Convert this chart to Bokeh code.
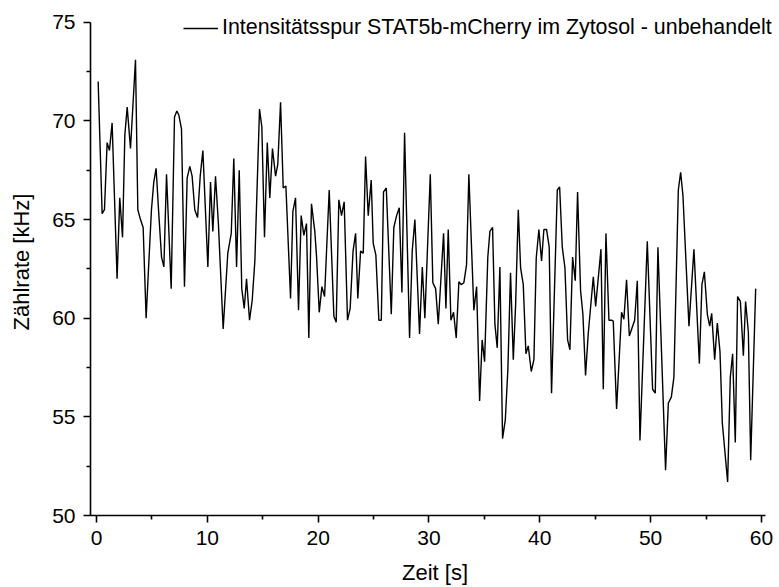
from bokeh.plotting import figure
from bokeh.models import Range1d, FixedTicker, Legend, LegendItem
from bokeh.embed import file_html
from bokeh.resources import INLINE

# time [s] and count rate [kHz]
zeit = [0.15, 0.51, 0.72, 0.96, 1.17, 1.41, 1.86, 2.1, 2.35, 2.56, 2.77, 3.07, 3.52, 3.73, 3.97, 4.21, 4.48,
        4.72, 4.96, 5.17, 5.38, 5.62, 5.87, 6.08, 6.32, 6.74, 7.04, 7.25, 7.43, 7.67, 7.94, 8.18, 8.42, 8.63,
        8.87, 9.12, 9.36, 9.6, 10.05, 10.29, 10.5, 10.74, 11.0, 11.43, 11.85, 12.16, 12.39, 12.64, 12.88, 13.11,
        13.33, 13.54, 13.81, 14.05, 14.29, 14.71, 14.92, 15.16, 15.41, 15.64, 15.88, 16.16, 16.36, 16.61, 16.85,
        17.09, 17.51, 17.72, 17.96, 18.23, 18.47, 18.71, 18.95, 19.16, 19.4, 19.7, 19.86, 20.1, 20.34, 20.58,
        21.0, 21.42, 21.63, 21.87, 22.11, 22.35, 22.65, 22.89, 23.15, 23.38, 23.58, 23.83, 24.07, 24.28, 24.52,
        24.79, 24.97, 25.21, 25.48, 25.7, 25.9, 26.15, 26.6, 26.83, 27.08, 27.32, 27.56, 27.8, 28.25, 28.49,
        28.73, 29.15, 29.4, 29.63, 30.12, 30.35, 30.6, 30.84, 31.32, 31.53, 31.74, 31.98, 32.22, 32.46, 32.7,
        32.91, 33.15, 33.39, 33.6, 34.05, 34.3, 34.57, 34.8, 35.02, 35.31, 35.5, 35.74, 35.95, 36.16, 36.4,
        36.64, 36.89, 37.12, 37.36, 37.61, 37.82, 38.06, 38.27, 38.51, 38.75, 38.96, 39.23, 39.47, 39.68, 39.92,
        40.16, 40.37, 40.61, 40.85, 41.06, 41.58, 41.79, 42.03, 42.27, 42.51, 42.72, 42.96, 43.2, 43.41, 43.68,
        43.89, 44.13, 44.37, 44.83, 45.04, 45.52, 45.73, 45.97, 46.24, 46.48, 46.63, 46.93, 47.38, 47.59, 47.83,
        48.08, 48.56, 48.8, 49.04, 49.7, 50.18, 50.42, 50.66, 51.35, 51.6, 51.87, 52.1, 52.5, 52.71, 52.92,
        53.46, 53.91, 54.4, 54.63, 54.85, 55.12, 55.33, 55.51, 55.78, 56.02, 56.26, 56.47, 56.95, 57.19, 57.4,
        57.64, 57.85, 58.1, 58.37, 58.57, 58.82, 59.03, 59.48]
zaehlrate = [72.0, 65.3, 65.5, 68.9, 68.5, 69.9, 62.0, 66.1, 64.1, 69.3, 70.7, 68.6, 73.1, 65.5, 65.0, 64.6, 60.0,
             62.8, 65.5, 66.9, 67.6, 65.3, 63.1, 62.6, 67.3, 61.5, 70.2, 70.5, 70.3, 69.6, 61.6, 67.1, 67.7, 67.2,
             65.5, 65.1, 67.2, 68.5, 62.6, 66.9, 64.4, 67.2, 64.8, 59.45, 63.3, 64.3, 68.1, 62.6, 67.5, 61.5,
             60.5, 62.0, 59.9, 60.9, 62.9, 70.6, 69.7, 64.1, 68.9, 66.1, 68.6, 67.2, 67.8, 70.95, 66.6,
             66.7, 61.0, 65.4, 66.1, 60.4, 65.2, 64.2, 64.8, 59.0, 65.8, 64.4, 63.1, 60.3, 61.6, 61.1,
             66.5, 60.1, 59.8, 66.0, 65.2, 65.9, 59.9, 60.5, 63.4, 64.3, 61.0, 63.4, 63.3, 68.2, 65.2,
             67.0, 63.8, 63.2, 59.9, 59.9, 66.4, 66.6, 60.2, 64.6, 65.2, 65.6, 61.3, 69.4, 59.0, 63.4,
             65.0, 59.2, 62.6, 60.0, 67.3, 61.8, 61.5, 59.7, 64.3, 60.5, 64.5, 59.9, 60.3, 59.0, 61.85,
             61.7, 61.8, 62.7, 67.3, 60.4, 61.6, 55.8, 58.9, 57.8, 63.1, 64.4, 64.6, 59.7, 58.5, 62.6,
             53.9, 54.85, 57.4, 62.3, 57.9, 60.7, 65.5, 62.55, 61.7, 58.2, 58.6, 57.3, 57.9, 63.05, 64.5,
             62.9, 64.5, 64.5, 63.6, 56.2, 66.5, 66.65, 63.6, 62.55, 58.9, 58.4, 63.1, 61.9, 66.4, 61.4,
             60.2, 57.1, 59.2, 62.1, 60.6, 63.5, 56.4, 64.3, 59.9, 59.9, 59.85, 55.4, 60.3, 59.95, 61.95,
             59.1, 59.9, 61.9, 53.8, 63.9, 56.4, 56.2, 63.6, 52.3, 55.7, 56.0, 57.0, 66.5, 67.4, 66.2,
             59.6, 63.5, 57.7, 61.7, 62.35, 60.2, 59.6, 60.25, 57.9, 59.75, 58.3, 54.7, 51.7, 57.0, 58.2,
             53.7, 61.1, 60.85, 58.1, 60.85, 59.3, 52.8, 61.5]

x_major = [0, 10, 20, 30, 40, 50, 60]
x_minor = [5, 15, 25, 35, 45, 55]
y_major = [50, 55, 60, 65, 70, 75]
y_minor = [52.5, 57.5, 62.5, 67.5, 72.5]
x_bounds = (-0.54, 60.36)
y_bounds = (50, 75)
legend_label = "Intensitätsspur STAT5b-mCherry im Zytosol - unbehandelt"

FONT = "Liberation Sans"

# frame extends beyond the axes (to the top and right) so the legend is not clipped
p = figure(width=779, height=587, output_backend="svg", toolbar_location=None,
           x_range=Range1d(-0.54, 61.63), y_range=Range1d(50, 75.70),
           min_border_left=90, min_border_right=0, min_border_top=8, min_border_bottom=67,
           outline_line_color=None, background_fill_color="white", border_fill_color="white")
p.grid.visible = False

r = p.line(zeit, zaehlrate, line_color="black", line_width=1.4)

for ax in (p.xaxis[0], p.yaxis[0]):
    ax.axis_line_width = 1.6
    ax.axis_line_color = "black"
    ax.major_tick_line_width = 1.6
    ax.minor_tick_line_width = 1.6
    ax.major_tick_in = 0
    ax.major_tick_out = 7
    ax.minor_tick_in = 0
    ax.minor_tick_out = 4
    ax.major_label_text_font = FONT
    ax.major_label_text_font_size = "21px"
    ax.major_label_text_color = "black"
    ax.axis_label_text_font = FONT
    ax.axis_label_text_font_size = "22px"
    ax.axis_label_text_font_style = "normal"
    ax.axis_label_text_color = "black"

p.xaxis[0].ticker = FixedTicker(ticks=x_major, minor_ticks=x_minor)
p.yaxis[0].ticker = FixedTicker(ticks=y_major, minor_ticks=y_minor)
p.xaxis[0].bounds = x_bounds
p.yaxis[0].bounds = y_bounds
p.xaxis[0].axis_label = "Zeit [s]"
p.yaxis[0].axis_label = "Zählrate [kHz]"
p.xaxis[0].major_label_standoff = 8
p.xaxis[0].axis_label_standoff = 12
p.yaxis[0].major_label_standoff = 8
p.yaxis[0].axis_label_standoff = 15

legend = Legend(items=[LegendItem(label=legend_label, renderers=[r])],
                location=(93, 475), padding=0, margin=0, spacing=0,
                glyph_width=35, glyph_height=24, label_standoff=4,
                label_text_font=FONT, label_text_font_size="21.4px", label_text_color="black",
                border_line_alpha=0, background_fill_alpha=0)
p.add_layout(legend, "center")

open("out.html", "w").write(file_html(p, INLINE))
